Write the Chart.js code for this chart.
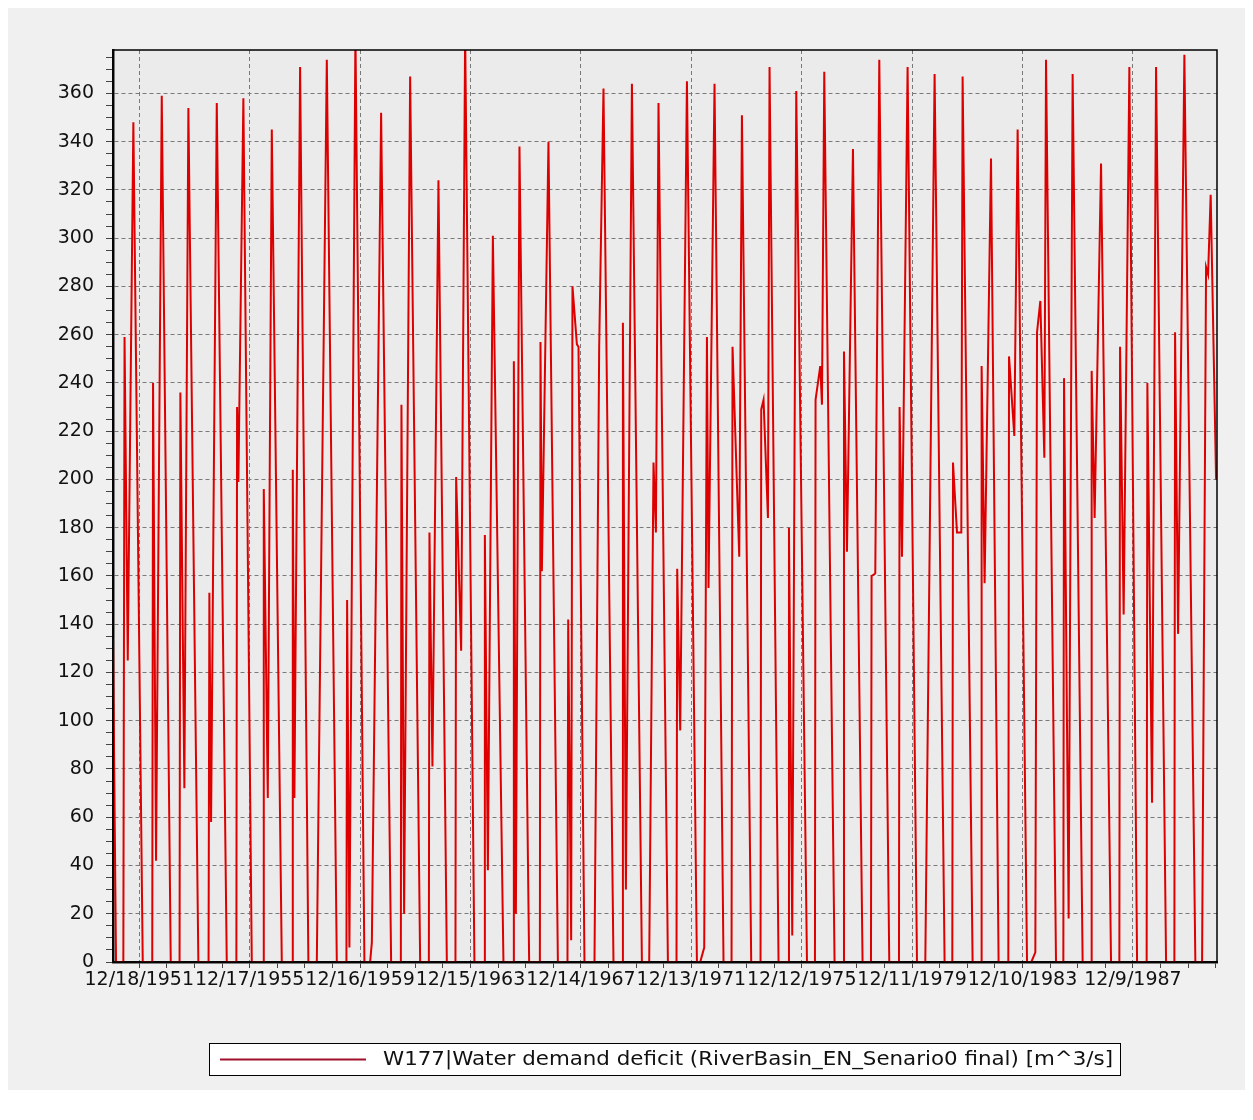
<!DOCTYPE html>
<html>
<head>
<meta charset="utf-8">
<script src="https://cdn.jsdelivr.net/npm/chart.js@4.4.1/dist/chart.umd.min.js"></script>
<style>
  html, body { margin: 0; padding: 0; background: #ffffff; }
  #wrap { width: 1253px; height: 1120px; }
</style>
</head>
<body>
<div id="wrap"><canvas id="chart" width="1253" height="1120"></canvas></div>
<script>
// decimal years / deficit values, one list per decade
const years1950s = [
  1951.01, 1951.12,
  1951.384, 1951.428, 1951.544, 1951.747, 1952.087,
  1952.431, 1952.460, 1952.569, 1952.775, 1953.101,
  1953.420, 1953.449, 1953.594, 1953.739, 1954.101,
  1954.470, 1954.499, 1954.561, 1954.767, 1955.129,
  1955.477, 1955.502, 1955.549, 1955.730, 1956.035,
  1956.444, 1956.469, 1956.614, 1956.759, 1957.121,
  1957.494, 1957.519, 1957.577, 1957.784, 1958.084,
  1958.389, 1958.472, 1958.751, 1959.113,
  1959.461, 1959.486, 1959.569, 1959.787, 1960.113
];
const deficit1950s = [
  134, 0,
  0, 259, 125, 348, 0,
  0, 240, 42, 359, 0,
  0, 236, 72, 354, 0,
  0, 153, 58, 356, 0,
  0, 230, 199, 358, 0,
  0, 196, 68, 345, 0,
  0, 204, 68, 371, 0,
  0, 88, 374, 0,
  0, 150, 6, 385, 0
];

const years1960s = [
  1960.319, 1960.381, 1960.717, 1961.080,
  1961.431, 1961.453, 1961.550, 1961.768, 1962.130,
  1962.445, 1962.467, 1962.575, 1962.793, 1963.097,
  1963.408, 1963.433, 1963.615, 1963.759, 1964.096,
  1964.448, 1964.473, 1964.582, 1964.763, 1965.146,
  1965.498, 1965.523, 1965.596, 1965.726, 1966.077,
  1966.465, 1966.487, 1966.537, 1966.776, 1967.117,
  1967.464, 1967.490, 1967.598, 1967.645, 1967.805, 1967.863, 1968.080,
  1968.442, 1968.612, 1968.768, 1969.130,
  1969.445, 1969.471, 1969.579, 1969.797, 1970.159
];
const deficit1960s = [
  0, 8, 352, 0,
  0, 231, 20, 367, 0,
  0, 178, 81, 324, 0,
  0, 201, 129, 385, 0,
  0, 177, 38, 301, 0,
  0, 249, 20, 338, 0,
  0, 257, 162, 340, 0,
  0, 142, 9, 280, 256, 255, 0,
  0, 255, 362, 0,
  0, 265, 30, 364, 0
];

const years1970s = [
  1970.423, 1970.579, 1970.666, 1970.760, 1971.100,
  1971.412, 1971.437, 1971.546, 1971.789, 1972.151,
  1972.270, 1972.415, 1972.513, 1972.571, 1972.788, 1973.114,
  1973.404, 1973.440, 1973.683, 1973.780, 1974.117,
  1974.454, 1974.479, 1974.563, 1974.722, 1974.780, 1975.106,
  1975.457, 1975.483, 1975.602, 1975.747, 1976.135,
  1976.424, 1976.446, 1976.616, 1976.678, 1976.761, 1977.134,
  1977.449, 1977.475, 1977.583, 1977.800, 1978.148,
  1978.452, 1978.474, 1978.608, 1978.753, 1979.115,
  1979.466, 1979.488, 1979.575, 1979.778, 1980.118
];
const deficit1970s = [
  0, 207, 178, 356, 0,
  0, 163, 96, 365, 0,
  0, 6, 259, 155, 364, 0,
  0, 255, 168, 351, 0,
  0, 229, 233, 184, 371, 0,
  0, 180, 11, 361, 0,
  0, 233, 247, 231, 369, 0,
  0, 253, 170, 337, 0,
  0, 160, 161, 374, 0,
  0, 230, 168, 371, 0
];

const years1980s = [
  1980.419, 1980.756, 1981.118,
  1981.397, 1981.422, 1981.567, 1981.723, 1981.770, 1982.132,
  1982.436, 1982.458, 1982.566, 1982.798, 1983.073,
  1983.425, 1983.450, 1983.642, 1983.762, 1984.102,
  1984.258, 1984.403, 1984.464, 1984.584, 1984.729, 1984.790, 1985.152,
  1985.417, 1985.442, 1985.609, 1985.753, 1986.116,
  1986.420, 1986.442, 1986.550, 1986.782, 1987.144,
  1987.445, 1987.470, 1987.600, 1987.807, 1988.086,
  1988.433, 1988.459, 1988.629, 1988.774, 1989.136,
  1989.437, 1989.462, 1989.571, 1989.799, 1990.197,
  1990.440, 1990.584, 1990.657, 1990.751, 1990.947
];
const deficit1980s = [
  0, 368, 0,
  0, 207, 178, 178, 367, 0,
  0, 247, 157, 333, 0,
  0, 251, 218, 345, 0,
  0, 4, 261, 274, 209, 374, 0,
  0, 242, 18, 368, 0,
  0, 245, 184, 331, 0,
  0, 255, 144, 371, 0,
  0, 240, 66, 371, 0,
  0, 261, 136, 376, 0,
  0, 288, 285, 318, 200
];

const seriesLabel = 'W177|Water demand deficit (RiverBasin_EN_Senario0 final) [m^3/s]';
const firstTickDate = [1951, 11, 18];   // 12/18/1951
const yTickLabels = [0, 20, 40, 60, 80, 100, 120, 140, 160, 180, 200, 220, 240, 260, 280, 300, 320, 340, 360];

const DAY = 86400000;
const BASE = Date.UTC(1951, 0, 1);
const toMs = y => BASE + (y - 1951) * 365.25 * DAY;
const T0 = Date.UTC(...firstTickDate);
const YEAR_STEP = 365 * DAY;

const allYears = [...years1950s, ...years1960s, ...years1970s, ...years1980s];
const allValues = [...deficit1950s, ...deficit1960s, ...deficit1970s, ...deficit1980s];
const points = allYears.map((y, i) => ({ x: toMs(y), y: allValues[i] }));

const fontFamily = '"DejaVu Sans", Verdana, sans-serif';
const lineColor = '#dd0000';

function yearIndex(v) {
  return Math.round((v - T0) / YEAR_STEP);
}
function isMajorX(v) {
  const k = yearIndex(v);
  return k >= 0 && k % 4 === 0;
}

const frame = {
  id: 'frame',
  beforeDraw(chart) {
    const { ctx, chartArea: a } = chart;
    ctx.save();
    ctx.fillStyle = '#ffffff';
    ctx.fillRect(0, 0, chart.width, chart.height);
    ctx.fillStyle = '#f0f0f0';
    ctx.fillRect(8, 8, 1237, 1082);
    ctx.fillStyle = '#ebebeb';
    ctx.fillRect(a.left, a.top, a.right - a.left, a.bottom - a.top);
    ctx.restore();
  },
  afterDraw(chart) {
    const { ctx, chartArea: a } = chart;
    ctx.save();
    ctx.strokeStyle = '#000000';
    ctx.lineWidth = 1.5;
    ctx.strokeRect(a.left, a.top, a.right - a.left, a.bottom - a.top);

    // legend box
    ctx.fillStyle = '#ffffff';
    ctx.fillRect(209.5, 1043.5, 911, 32);
    ctx.lineWidth = 1;
    ctx.strokeRect(209.5, 1043.5, 911, 32);
    ctx.strokeStyle = '#a0102a';
    ctx.lineWidth = 2;
    ctx.beginPath();
    ctx.moveTo(220, 1059.5);
    ctx.lineTo(366, 1059.5);
    ctx.stroke();
    ctx.fillStyle = '#111111';
    ctx.font = '20px ' + fontFamily;
    ctx.textBaseline = 'middle';
    const label = chart.data.datasets[0].label;
    const w = ctx.measureText(label).width;
    ctx.translate(383, 1060);
    ctx.scale(730 / w, 1);
    ctx.fillText(label, 0, 0);
    ctx.restore();
  }
};

new Chart(document.getElementById('chart'), {
  type: 'line',
  data: {
    datasets: [{
      label: seriesLabel,
      data: points,
      borderColor: lineColor,
      borderWidth: 2,
      pointRadius: 0,
      fill: false,
      tension: 0
    }]
  },
  options: {
    responsive: false,
    animation: false,
    layout: { padding: { left: 10, top: 50, right: 36, bottom: 118 } },
    plugins: {
      legend: { display: false },
      tooltip: { enabled: false }
    },
    scales: {
      x: {
        type: 'linear',
        min: toMs(1951.01),
        max: toMs(1990.98),
        afterBuildTicks(axis) {
          const ticks = [];
          for (let t = T0 - YEAR_STEP; t <= axis.max; t += YEAR_STEP) {
            if (t >= axis.min) ticks.push({ value: t });
          }
          axis.ticks = ticks;
        },
        afterFit(axis) { axis.height = 40; },
        ticks: {
          autoSkip: false,
          maxRotation: 0,
          minRotation: 0,
          padding: 1,
          color: '#111111',
          font: { family: fontFamily, size: 19 },
          callback(value) {
            if (!isMajorX(value)) return '';
            const d = new Date(value);
            return `${d.getUTCMonth() + 1}/${d.getUTCDate()}/${d.getUTCFullYear()}`;
          }
        },
        grid: {
          color: ctx => (ctx.tick && isMajorX(ctx.tick.value)) ? '#7a7a7a' : 'rgba(0,0,0,0)',
          lineWidth: 1,
          tickColor: '#444444',
          tickLength: 6
        },
        border: { display: true, color: '#111111', width: 2.5, dash: [4, 3] }
      },
      y: {
        type: 'linear',
        min: 0,
        max: 378,
        afterBuildTicks(axis) {
          const ticks = [];
          for (let v = 0; v <= 375; v += 5) ticks.push({ value: v });
          axis.ticks = ticks;
        },
        afterFit(axis) { axis.width = 103; },
        ticks: {
          autoSkip: false,
          padding: 12,
          color: '#111111',
          font: { family: fontFamily, size: 19 },
          callback(value) {
            return yTickLabels.includes(value) ? String(value) : '';
          }
        },
        grid: {
          color: ctx => (ctx.tick && yTickLabels.includes(ctx.tick.value)) ? '#7a7a7a' : 'rgba(0,0,0,0)',
          lineWidth: 1,
          tickColor: '#444444',
          tickLength: 7
        },
        border: { display: true, color: '#111111', width: 2.5, dash: [4, 3] }
      }
    }
  },
  plugins: [frame]
});
</script>
</body>
</html>
